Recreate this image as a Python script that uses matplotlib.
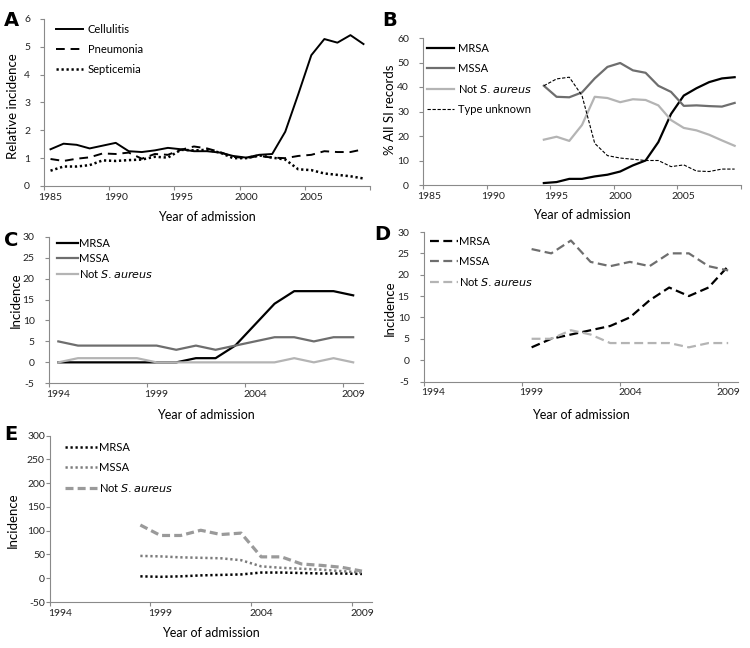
import matplotlib
matplotlib.use("Agg")
import matplotlib.pyplot as plt
import numpy as np

# ---- data ----
years_a = list(range(1985, 2010))
cellulitis = [1.32, 1.52, 1.48, 1.35, 1.45, 1.55, 1.25, 1.22, 1.28, 1.37, 1.32, 1.25, 1.25,
              1.20, 1.08, 1.02, 1.12, 1.15, 1.95, 3.30, 4.70, 5.28, 5.15, 5.42, 5.10]
pneumonia = [0.97, 0.90, 0.98, 1.03, 1.17, 1.15, 1.20, 0.98, 1.15, 1.12, 1.30, 1.42, 1.35,
             1.22, 1.05, 1.00, 1.08, 1.02, 1.00, 1.08, 1.12, 1.25, 1.22, 1.22, 1.32]
septicemia = [0.55, 0.70, 0.70, 0.75, 0.92, 0.90, 0.93, 0.95, 1.05, 1.02, 1.30, 1.28, 1.30,
              1.20, 1.00, 1.00, 1.10, 1.02, 0.95, 0.60, 0.57, 0.45, 0.40, 0.35, 0.27]

years_b = list(range(1994, 2010))
b_mrsa = [0.8, 1.2, 2.5, 2.5, 3.5, 4.2, 5.5, 8.0, 10.0, 17.5, 29.0, 36.5, 39.5, 42.0, 43.5, 44.0]
b_mssa = [40.5, 36.0, 35.8, 37.8, 43.5, 48.2, 49.8, 46.8, 45.8, 40.5, 38.0, 32.3, 32.5, 32.2, 32.0, 33.5]
b_not = [18.5, 19.7, 18.0, 24.5, 36.0, 35.5, 33.8, 35.0, 34.7, 32.5, 26.5, 23.3, 22.3, 20.5, 18.2, 16.0]
b_unknown = [40.5, 43.3, 44.0, 36.5, 17.0, 12.0, 11.0, 10.5, 10.0, 10.0, 7.5, 8.2, 5.7, 5.5, 6.5, 6.5]

years_c = list(range(1994, 2010))
c_mrsa = [0, 0, 0, 0, 0, 0, 0, 1, 1, 4, 9, 14, 17, 17, 17, 16]
c_mssa = [5, 4, 4, 4, 4, 4, 3, 4, 3, 4, 5, 6, 6, 5, 6, 6]
c_not = [0, 1, 1, 1, 1, 0, 0, 0, 0, 0, 0, 0, 1, 0, 1, 0]

years_d = list(range(1999, 2010))
d_mrsa = [3, 5, 6, 7, 8, 10, 14, 17, 15, 17, 22]
d_mssa = [26, 25, 28, 23, 22, 23, 22, 25, 25, 22, 21]
d_not = [5, 5, 7, 6, 4, 4, 4, 4, 3, 4, 4]

years_e = list(range(1998, 2010))
e_mrsa = [4, 3, 4, 6, 7, 8, 12, 12, 11, 10, 10, 9]
e_mssa = [47, 46, 44, 43, 42, 38, 25, 22, 20, 18, 15, 12]
e_not = [112, 90, 90, 101, 92, 95, 45, 45, 30, 27, 23, 15]

W, H = 750, 648
plt.rcParams["font.family"] = ["Lato", "DejaVu Sans"]
plt.rcParams["axes.unicode_minus"] = False
fig = plt.figure(figsize=(W / 100, H / 100), dpi=100)

AX_GREY = "#8a8a8a"
MSSA_GREY = "#6e6e6e"
LIGHT_GREY = "#b4b4b4"


def px_axes(left, top, right, bottom):
    return fig.add_axes([left / W, 1 - bottom / H, (right - left) / W, (bottom - top) / H])


def style_axes(ax, first, last, step_first, ylim, yticks, ypad=7):
    ax.set_xlim(first - 0.5, last + 0.5)
    ax.set_ylim(*ylim)
    ax.set_yticks(yticks)
    major = np.arange(first - 0.5, last + 0.51, 5)
    ax.set_xticks(major)
    ax.set_xticklabels([])
    labs = np.arange(step_first, last + 1, 5)
    ax.set_xticks(labs, minor=True)
    ax.set_xticklabels([str(v) for v in labs], minor=True)
    for s in ["top", "right"]:
        ax.spines[s].set_visible(False)
    for s in ["left", "bottom"]:
        ax.spines[s].set_color(AX_GREY)
        ax.spines[s].set_linewidth(0.8)
    ax.tick_params(axis="both", which="major", direction="out", length=3, width=0.8,
                   color=AX_GREY, labelsize=7.5, labelcolor="#222222", pad=3)
    ax.tick_params(axis="x", which="minor", length=0, labelsize=7.5, labelcolor="#222222", pad=5)
    ax.tick_params(axis="y", pad=ypad)


def px_text(x, y, s, **kw):
    fig.text(x / W, 1 - y / H, s, **kw)


def px_ylabel(x, y, s):
    px_text(x, y, s, fontsize=9.5, rotation=90, ha="center", va="center")


def px_legend(ax, x, y, spacing, handlelength=2.4, textpad=0.35):
    ax.legend(loc="upper left", bbox_to_anchor=(x / W, 1 - y / H), bbox_transform=fig.transFigure,
              frameon=False, fontsize=8, borderpad=0, borderaxespad=0, handlelength=handlelength,
              handletextpad=textpad, labelspacing=spacing)


not_sa = "Not $\\it{S. aureus}$"

# ---- A ----
axA = px_axes(44, 19, 370, 186)
axA.plot(years_a, cellulitis, color="black", lw=1.4, label="Cellulitis")
axA.plot(years_a, pneumonia, color="black", lw=1.4, linestyle=(0, (4.5, 3)), label="Pneumonia")
axA.plot(years_a, septicemia, color="black", lw=1.8, linestyle=(0, (0.9, 1.1)), label="Septicemia")
style_axes(axA, 1985, 2009, 1985, (0, 6), range(0, 7))
px_ylabel(13, 106, "Relative incidence")
px_legend(axA, 56, 24, 0.8, textpad=0.45)

# ---- B ----
axB = px_axes(423, 38, 741, 185)
axB.plot(years_b, b_mrsa, color="black", lw=1.6, label="MRSA")
axB.plot(years_b, b_mssa, color=MSSA_GREY, lw=1.6, label="MSSA")
axB.plot(years_b, b_not, color=LIGHT_GREY, lw=1.6, label=not_sa)
axB.plot(years_b, b_unknown, color="black", lw=0.8, linestyle=(0, (3, 1.5)), label="Type unknown")
style_axes(axB, 1985, 2009, 1985, (0, 60), range(0, 61, 10))
px_ylabel(390, 110, "% All SI records")
px_legend(axB, 427, 43, 0.8)

# ---- C ----
axC = px_axes(48.5, 236.7, 363, 383.3)
axC.plot(years_c, c_mrsa, color="black", lw=1.6, label="MRSA")
axC.plot(years_c, c_mssa, color=MSSA_GREY, lw=1.6, label="MSSA")
axC.plot(years_c, c_not, color=LIGHT_GREY, lw=1.6, label=not_sa)
style_axes(axC, 1994, 2009, 1994, (-5, 30), range(-5, 31, 5))
px_ylabel(16, 300, "Incidence")
px_legend(axC, 57, 238, 0.35, handlelength=1.9, textpad=0.1)

# ---- D ----
axD = px_axes(423.5, 232, 738, 381.5)
axD.plot(years_d, d_mrsa, color="black", lw=1.6, linestyle=(0, (4, 2)), label="MRSA")
axD.plot(years_d, d_mssa, color=MSSA_GREY, lw=1.6, linestyle=(0, (4, 2)), label="MSSA")
axD.plot(years_d, d_not, color=LIGHT_GREY, lw=1.6, linestyle=(0, (4, 2)), label=not_sa)
style_axes(axD, 1994, 2009, 1994, (-5, 30), range(-5, 31, 5))
px_ylabel(390, 308, "Incidence")
px_legend(axD, 430, 236, 0.8, handlelength=2.5, textpad=0.1)

# ---- E ----
axE = px_axes(49.7, 435.7, 372, 602)
axE.plot(years_e, e_mrsa, color="black", lw=1.8, linestyle=(0, (0.9, 1.1)), label="MRSA")
axE.plot(years_e, e_mssa, color="#7a7a7a", lw=1.8, linestyle=(0, (0.9, 1.1)), label="MSSA")
axE.plot(years_e, e_not, color="#9a9a9a", lw=2.3, linestyle=(0, (2.5, 1.3)), label=not_sa)
style_axes(axE, 1994, 2009, 1994, (-50, 300), range(-50, 301, 50), ypad=0.5)
px_ylabel(13, 520, "Incidence")
px_legend(axE, 65, 442, 0.8, handlelength=2.9, textpad=0.2)

# x labels and panel letters
for x, y in [(207, 217), (582, 215), (206, 415), (581, 415), (211, 633)]:
    px_text(x, y, "Year of admission", fontsize=9, ha="center", va="center")
for x, y, s in [(4, 20, "A"), (382, 20, "B"), (4, 240, "C"), (374, 235, "D"), (4, 435, "E")]:
    px_text(x, y, s, fontsize=14, fontweight="bold", family="DejaVu Sans", ha="left", va="center")

fig.savefig("out.png", dpi=100)
